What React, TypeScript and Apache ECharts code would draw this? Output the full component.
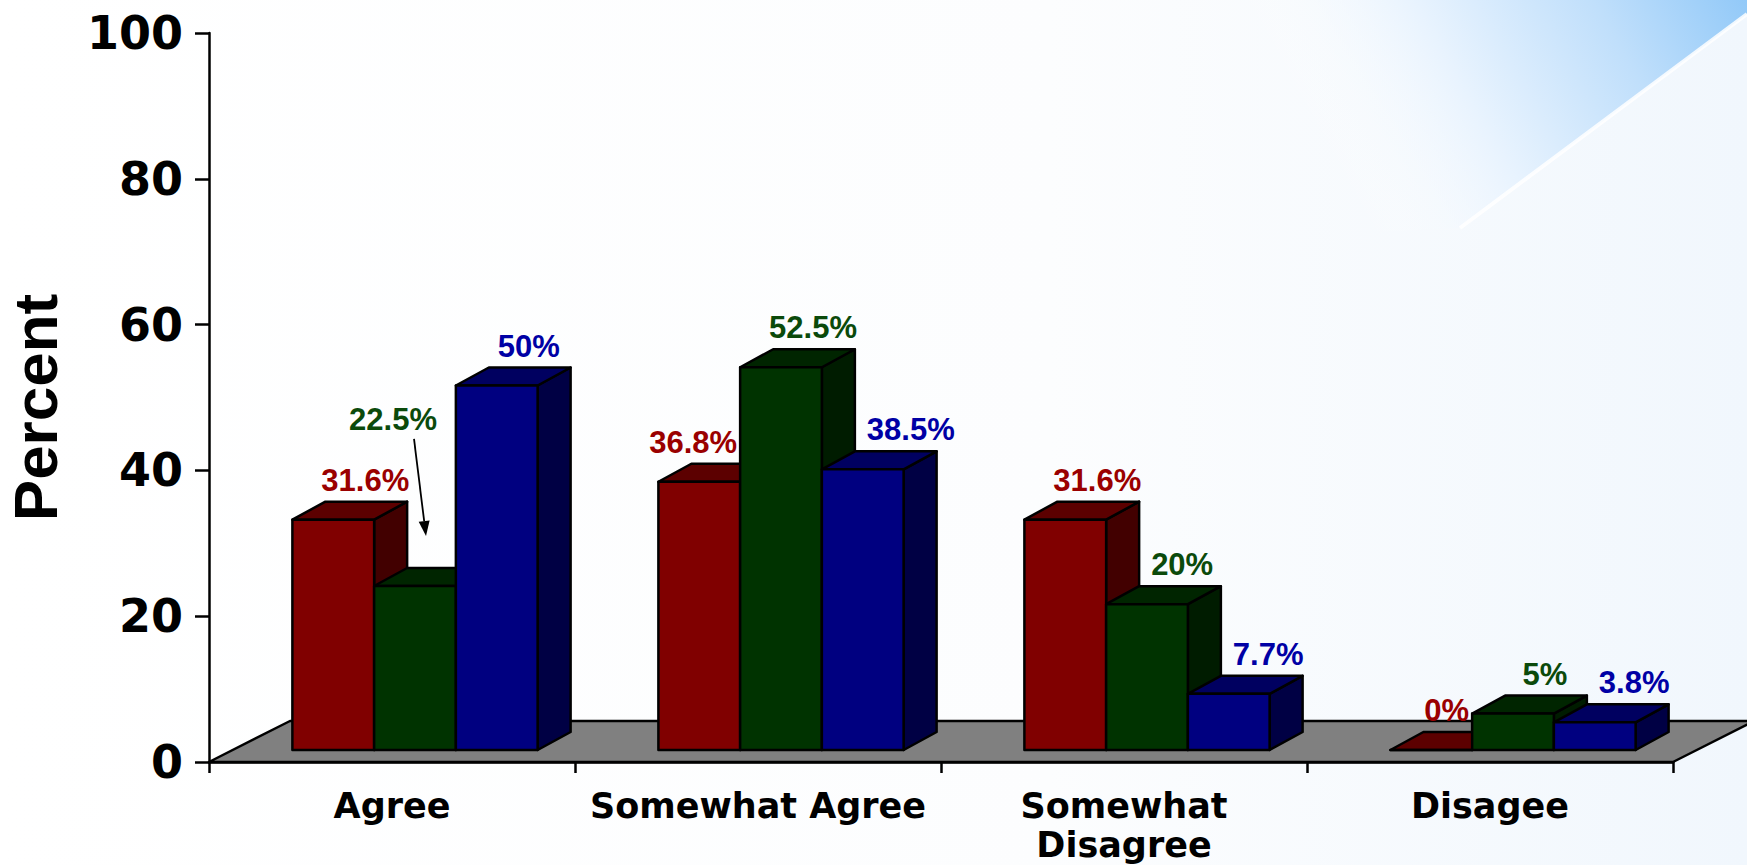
import React, { useEffect, useRef } from "react";
import * as echarts from "echarts";

// ---------- data ----------
const categories = ["Agree", "Somewhat Agree", "Somewhat\nDisagree", "Disagee"];
const seriesNames = ["Series 1", "Series 2", "Series 3"];
const redValues = [31.6, 36.8, 31.6, 0];
const greenValues = [22.5, 52.5, 20, 5];
const blueValues = [50, 38.5, 7.7, 3.8];
const yTickMin = 0;
const yTickMax = 100;
const yTickStep = 20;

const allValues = [redValues, greenValues, blueValues];

// ---------- style ----------
const palettes = [
  { front: "#800000", top: "#5c0000", side: "#420000", label: "#9a0000" },
  { front: "#003300", top: "#002500", side: "#001c00", label: "#0b4a0b" },
  { front: "#000080", top: "#000060", side: "#000044", label: "#0000a5" },
];
const BAR_DX = 33;
const BAR_DY = -18;
const SHIFT_X = 23;
const SHIFT_Y = -12;
const FLOOR_DX = 81;
const FLOOR_DY = -41;
const GROUP_RATIO = 0.67;
const STROKE = 2.5;
const LABEL_SIZE = 31;
const LABEL_FONT = 'bold 31px "Liberation Sans", Arial, sans-serif';
// the label that is placed as a callout with an arrow (series index, category index)
const CALLOUT_SERIES = 1;
const CALLOUT_INDEX = 0;

function fmt(v: number) {
  return String(v) + "%";
}

function approxWidth(s: string) {
  let w = 0;
  for (const ch of s) {
    if (ch === ".") w += 0.278;
    else if (ch === "%") w += 0.889;
    else w += 0.556;
  }
  return w * LABEL_SIZE;
}

function geom(sIdx: number, api: any) {
  const cat = api.value(0);
  const val = api.value(1);
  const base = api.coord([cat, 0]);
  const topPt = api.coord([cat, val]);
  const catW = api.size([1, 0])[0];
  const groupW = catW * GROUP_RATIO;
  const barW = groupW / 3;
  const x0 = base[0] - groupW / 2 + sIdx * barW + SHIFT_X;
  const x1 = x0 + barW;
  const yb = base[1] + SHIFT_Y;
  const yt = topPt[1] + SHIFT_Y;
  return { cat, val, x0, x1, yb, yt };
}

function makeBarRender(sIdx: number) {
  const p = palettes[sIdx];
  return (params: any, api: any) => {
    const { x0, x1, yb, yt } = geom(sIdx, api);
    const lineStyle = { stroke: "#000", lineWidth: STROKE, lineJoin: "round" };
    return {
      type: "group",
      children: [
        {
          type: "polygon",
          shape: { points: [[x1, yt], [x1 + BAR_DX, yt + BAR_DY], [x1 + BAR_DX, yb + BAR_DY], [x1, yb]] },
          style: { fill: p.side, ...lineStyle },
        },
        {
          type: "polygon",
          shape: { points: [[x0, yt], [x0 + BAR_DX, yt + BAR_DY], [x1 + BAR_DX, yt + BAR_DY], [x1, yt]] },
          style: { fill: p.top, ...lineStyle },
        },
        {
          type: "rect",
          shape: { x: x0, y: yt, width: x1 - x0, height: yb - yt },
          style: { fill: p.front, ...lineStyle },
        },
      ],
    };
  };
}

function makeLabelRender(sIdx: number) {
  const p = palettes[sIdx];
  return (params: any, api: any) => {
    const { cat, val, x0, x1, yt } = geom(sIdx, api);
    const cx = (x0 + x1) / 2;
    const backTop = yt + BAR_DY;
    const text = fmt(val);
    const w = approxWidth(text);
    const children: any[] = [];
    if (sIdx === CALLOUT_SERIES && cat === CALLOUT_INDEX) {
      const tip = [cx + 11, backTop - 32];
      const start = [cx - 1, backTop - 129];
      const ddx = tip[0] - start[0];
      const ddy = tip[1] - start[1];
      const len = Math.sqrt(ddx * ddx + ddy * ddy);
      const ux = ddx / len;
      const uy = ddy / len;
      const hb = [tip[0] - ux * 15, tip[1] - uy * 15];
      children.push({
        type: "line",
        shape: { x1: start[0], y1: start[1], x2: hb[0], y2: hb[1] },
        style: { stroke: "#000", lineWidth: 1.8 },
      });
      children.push({
        type: "polygon",
        shape: { points: [tip, [hb[0] + uy * 5.5, hb[1] - ux * 5.5], [hb[0] - uy * 5.5, hb[1] + ux * 5.5]] },
        style: { fill: "#000" },
      });
      children.push({
        type: "text",
        style: { text, x: cx - 22, y: backTop - 133, fill: p.label, font: LABEL_FONT, align: "center", verticalAlign: "bottom" },
      });
    } else {
      const next = sIdx < 2 ? allValues[sIdx + 1][cat] : -Infinity;
      const prev = sIdx > 0 ? allValues[sIdx - 1][cat] : -Infinity;
      let left: number;
      if (next > val) {
        left = x1 - 3 - w;
      } else {
        left = cx + 32 - w / 2;
        if (prev > val) left = Math.max(left, x0 + BAR_DX + 12);
      }
      children.push({
        type: "text",
        style: { text, x: left, y: backTop - 6, fill: p.label, font: LABEL_FONT, align: "left", verticalAlign: "bottom" },
      });
    }
    return { type: "group", children };
  };
}

function floorRender(params: any, api: any) {
  const cs = params.coordSys;
  const yf = cs.y + cs.height;
  const xl = cs.x;
  const xr = cs.x + cs.width;
  return {
    type: "polygon",
    shape: { points: [[xl, yf], [xr, yf], [xr + FLOOR_DX, yf + FLOOR_DY], [xl + FLOOR_DX, yf + FLOOR_DY]] },
    style: { fill: "#808080", stroke: "#000", lineWidth: STROKE, lineJoin: "round" },
  };
}

export default function App() {
  const ref = useRef<HTMLDivElement>(null);
  useEffect(() => {
    if (!ref.current) return;
    const chart = echarts.init(ref.current, undefined, { renderer: "svg" });
    const option: any = {
      animation: false,
      backgroundColor: "#ffffff",
      graphic: [
        {
          type: "rect",
          z: -20,
          silent: true,
          shape: { x: 0, y: 0, width: 1747, height: 865 },
          style: {
            fill: {
              type: "linear", x: 0, y: 0, x2: 1, y2: 0,
              colorStops: [
                { offset: 0, color: "#ffffff" },
                { offset: 0.6, color: "#fcfdfe" },
                { offset: 1, color: "#f1f7fd" },
              ],
            },
          },
        },
        {
          type: "polygon",
          z: -19,
          silent: true,
          shape: { points: [[1200, 0], [1747, 0], [1747, 14], [1460, 228], [1200, 240]] },
          style: {
            fill: {
              type: "linear", global: true, x: 1747, y: 0, x2: 1360, y2: 220,
              colorStops: [
                { offset: 0, color: "#92c9f8" },
                { offset: 0.3, color: "#c0dffb" },
                { offset: 0.65, color: "#e8f3fe" },
                { offset: 1, color: "rgba(255,255,255,0)" },
              ],
            },
          },
        },
        {
          type: "line",
          z: -18,
          silent: true,
          shape: { x1: 1747, y1: 14, x2: 1460, y2: 228 },
          style: { stroke: "rgba(255,255,255,0.85)", lineWidth: 4 },
        },
      ],
      grid: { left: 209, right: 74, top: 33, bottom: 103, containLabel: false, outerBoundsMode: "none" },
      xAxis: {
        type: "category",
        data: categories,
        boundaryGap: true,
        axisLine: { show: true, lineStyle: { color: "#000", width: STROKE } },
        axisTick: { show: true, length: 11, lineStyle: { color: "#000", width: STROKE } },
        splitLine: { show: false },
        axisLabel: {
          interval: 0,
          color: "#000",
          fontFamily: "DejaVu Sans",
          fontWeight: "bold",
          fontSize: 35,
          lineHeight: 39,
          margin: 24,
        },
      },
      yAxis: {
        type: "value",
        min: yTickMin,
        max: yTickMax,
        interval: yTickStep,
        name: "Percent",
        nameLocation: "middle",
        nameRotate: 90,
        nameGap: 149,
        nameTextStyle: {
          color: "#000",
          fontFamily: "Liberation Sans",
          fontWeight: "bold",
          fontSize: 62,
          lineHeight: 50,
          padding: [0, 20, 0, 0],
        },
        axisLine: { show: true, lineStyle: { color: "#000", width: STROKE } },
        axisTick: { show: true, length: 14, lineStyle: { color: "#000", width: STROKE } },
        splitLine: { show: false },
        axisLabel: {
          color: "#000",
          fontFamily: "DejaVu Sans",
          fontWeight: "bold",
          fontSize: 46,
          margin: 26,
        },
      },
      series: [
        {
          type: "custom",
          name: "floor",
          z: 1,
          silent: true,
          renderItem: floorRender,
          data: [[0, 0]],
        },
        ...allValues.map((vals, sIdx) => ({
          type: "custom",
          name: seriesNames[sIdx],
          z: 3 + sIdx,
          renderItem: makeBarRender(sIdx),
          encode: { x: 0, y: 1 },
          data: vals.map((v, i) => [i, v]),
        })),
        ...allValues.map((vals, sIdx) => ({
          type: "custom",
          name: seriesNames[sIdx] + " labels",
          z: 10,
          silent: true,
          renderItem: makeLabelRender(sIdx),
          encode: { x: 0, y: 1 },
          data: vals.map((v, i) => [i, v]),
        })),
      ],
    };
    chart.setOption(option);
    return () => chart.dispose();
  }, []);
  return (
    <div
      ref={ref}
      style={{ position: "absolute", left: 0, top: 0, width: 1747, height: 865 }}
    />
  );
}
